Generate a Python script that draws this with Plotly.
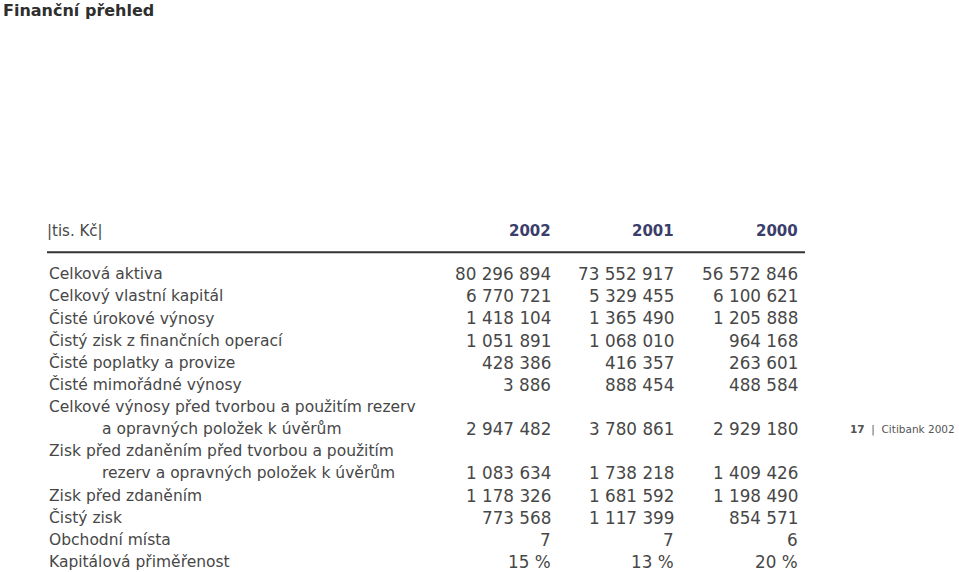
import plotly.graph_objects as go

# data
years = ["2002", "2001", "2000"]
labels = [
    "Celková aktiva",
    "Celkový vlastní kapitál",
    "Čisté úrokové výnosy",
    "Čistý zisk z finančních operací",
    "Čisté poplatky a provize",
    "Čisté mimořádné výnosy",
    "Celkové výnosy před tvorbou a použitím rezerv",
    "a opravných položek k úvěrům",
    "Zisk před zdaněním před tvorbou a použitím",
    "rezerv a opravných položek k úvěrům",
    "Zisk před zdaněním",
    "Čistý zisk",
    "Obchodní místa",
    "Kapitálová přiměřenost",
]
indented = [False] * 7 + [True, False, True] + [False] * 4
v2002 = ["80 296 894", "6 770 721", "1 418 104", "1 051 891", "428 386", "3 886", "",
         "2 947 482", "", "1 083 634", "1 178 326", "773 568", "7", "15 %"]
v2001 = ["73 552 917", "5 329 455", "1 365 490", "1 068 010", "416 357", "888 454", "",
         "3 780 861", "", "1 738 218", "1 681 592", "1 117 399", "7", "13 %"]
v2000 = ["56 572 846", "6 100 621", "1 205 888", "964 168", "263 601", "488 584", "",
         "2 929 180", "", "1 409 426", "1 198 490", "854 571", "6", "20 %"]
columns = [v2002, v2001, v2000]

FONT = "DejaVu Sans"
TXT = "#474747"
NAVY = "#3b3e6b"

col_right = [553, 676, 800]
label_x = 47
indent_x = 100

fig = go.Figure()
fig.add_trace(go.Scatter(x=[400], y=[0], mode="markers", marker=dict(opacity=0),
                         hoverinfo="skip", showlegend=False))

ann = []
for i, lab in enumerate(labels):
    ann.append(dict(x=indent_x if indented[i] else label_x, y=i, text=lab,
                    xanchor="left", yanchor="middle", showarrow=False,
                    font=dict(family=FONT, size=15.5, color=TXT)))
    for c, col in enumerate(columns):
        if col[i]:
            ann.append(dict(x=col_right[c], y=i, text=col[i], xanchor="right",
                            yanchor="middle", showarrow=False,
                            font=dict(family=FONT, size=16.8, color=TXT)))

header_row = -1.94
ann.append(dict(x=label_x - 2, y=header_row, text="|tis. Kč|", xanchor="left",
                yanchor="middle", showarrow=False,
                font=dict(family=FONT, size=15, color=TXT)))
for c, yr in enumerate(years):
    ann.append(dict(x=col_right[c], y=header_row, text="<b>" + yr + "</b>",
                    xanchor="right", yanchor="middle", showarrow=False,
                    font=dict(family=FONT, size=15, color=NAVY)))

ann.append(dict(x=0.001, y=0.981, xref="paper", yref="paper",
                text="<b>Finanční přehled</b>", xanchor="left",
                yanchor="middle", showarrow=False,
                font=dict(family=FONT, size=16, color="#2e2e2e")))
ann.append(dict(x=0.998, y=7, yref="y", xref="paper",
                text="<b>17</b>  |  Citibank 2002", xanchor="right",
                yanchor="middle", showarrow=False,
                font=dict(family=FONT, size=10.5, color="#555555")))

fig.update_layout(
    width=959, height=572,
    margin=dict(l=0, r=0, t=0, b=0),
    paper_bgcolor="white", plot_bgcolor="white",
    xaxis=dict(range=[0, 959], visible=False, fixedrange=True),
    yaxis=dict(range=[13.45, -12.37], visible=False, fixedrange=True),
    annotations=ann,
    shapes=[dict(type="line", xref="x", yref="y", x0=label_x, x1=805,
                 y0=-0.98, y1=-0.98, line=dict(color="#333333", width=2))],
)

# drop the default 8 px body margin so the figure fills the window
fig.write_html("out.html", config={"displayModeBar": False},
               post_script="document.body.style.margin='0';")
